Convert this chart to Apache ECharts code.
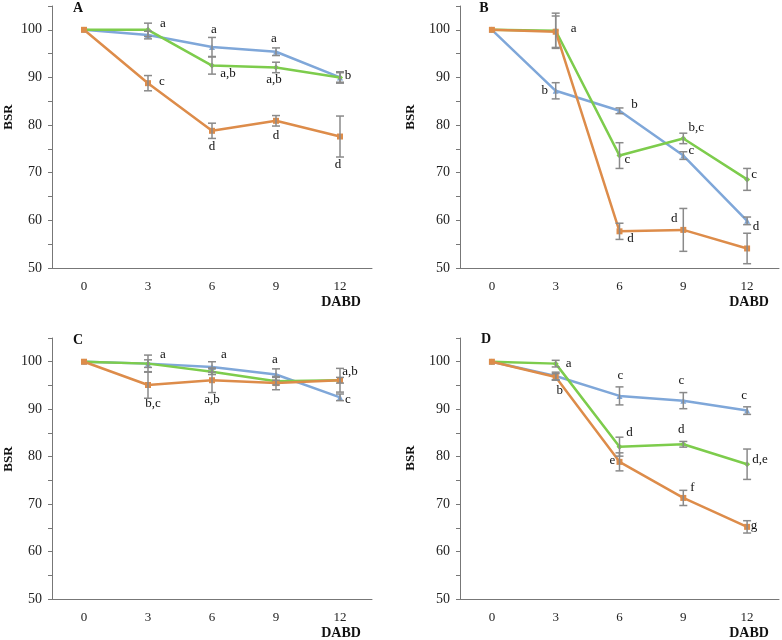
<!DOCTYPE html>
<html><head><meta charset="utf-8">
<script src="https://cdn.jsdelivr.net/npm/echarts@6/dist/echarts.min.js"></script>
<style>html,body{margin:0;padding:0;background:#fff}#c{width:782px;height:640px}</style>
</head><body><div id="c"></div>
<script>
// ---------- DATA ----------
const days = ['0', '3', '6', '9', '12'];
const yTicks = [50, 60, 70, 80, 90, 100];
const panelNames = ['A', 'B', 'C', 'D'];

// Panel A
const aBlue = [100, 98.9, 96.4, 95.4, 90.0];
const aBlueErr = [0, 0.8, 2.0, 0.8, 1.0];
const aGreen = [100, 100, 92.5, 92.1, 90.0];
const aGreenErr = [0, 1.4, 1.8, 1.1, 1.2];
const aOrange = [100, 88.8, 78.8, 80.9, 77.6];
const aOrangeErr = [0, 1.6, 1.6, 1.1, 4.3];
const aBlueTxt = ['', '', 'a', 'a', ''];
const aGreenTxt = ['', 'a', 'a,b', 'a,b', 'b'];
const aOrangeTxt = ['', 'c', 'd', 'd', 'd'];

// Panel B
const bBlue = [100, 87.2, 83.0, 73.6, 59.9];
const bBlueErr = [0, 1.7, 0.6, 0.8, 0.8];
const bGreen = [100, 99.8, 73.6, 77.2, 68.6];
const bGreenErr = [0, 3.7, 2.7, 1.1, 2.3];
const bOrange = [100, 99.6, 57.7, 58.0, 54.1];
const bOrangeErr = [0, 3.3, 1.7, 4.5, 3.2];
const bBlueTxt = ['', 'b', 'b', 'c', 'd'];
const bGreenTxt = ['', 'a', 'c', 'b,c', 'c'];
const bOrangeTxt = ['', '', 'd', 'd', ''];

// Panel C
const cBlue = [100, 99.6, 98.9, 97.3, 92.5];
const cBlueErr = [0, 0.8, 1.1, 1.2, 0.7];
const cGreen = [100, 99.6, 97.9, 95.9, 96.1];
const cGreenErr = [0, 1.8, 0.6, 0.8, 2.5];
const cOrange = [100, 95.1, 96.1, 95.5, 96.1];
const cOrangeErr = [0, 2.8, 2.6, 1.4, 0.6];
const cBlueTxt = ['', 'a', 'a', 'a', 'c'];
const cGreenTxt = ['', '', '', '', 'a,b'];
const cOrangeTxt = ['', 'b,c', 'a,b', '', ''];

// Panel D
const dBlue = [100, 97.0, 92.8, 91.8, 89.7];
const dBlueErr = [0, 0.8, 1.9, 1.7, 0.8];
const dGreen = [100, 99.6, 82.1, 82.6, 78.4];
const dGreenErr = [0, 0.7, 2.0, 0.6, 3.2];
const dOrange = [100, 96.8, 78.9, 71.3, 65.2];
const dOrangeErr = [0, 0.7, 1.9, 1.6, 1.3];
const dBlueTxt = ['', '', 'c', 'c', 'c'];
const dBlueTxt2 = ['', '', 'c', '', ''];
const dGreenTxt = ['', 'a', 'd', 'd', 'd,e'];
const dOrangeTxt = ['', 'b', 'e', 'f', 'g'];

// ---------- LAYOUT / STYLE ----------
const FONT = 'Liberation Serif';
const colors = { blue: '#7fa7d9', green: '#7dcc4c', orange: '#dd8c4a' };
const symbols = { blue: 'triangle', green: 'diamond', orange: 'rect' };
const grids = [
  { left: 52, top: 6, width: 320, height: 262 },
  { left: 460, top: 6, width: 319, height: 262 },
  { left: 52, top: 338, width: 320, height: 261 },
  { left: 460, top: 338, width: 319, height: 261 }
];
// label offsets [dx, dy] per panel/series/point
const offs = {
  A: { blue: [null, null, [2, -17], [-2, -13], null],
       green: [null, [15, -6], [16, 8], [-2, 12], [8, -2]],
       orange: [null, [14, -2], [0, 16], [0, 15], [-2, 28]] },
  B: { blue: [null, [-11, 0], [15, -6], [8, -5], [9, 6]],
       green: [null, [18, -2], [8, 4], [13, -11], [7, -5]],
       orange: [null, null, [11, 7], [-9, -11], null] },
  C: { blue: [null, [15, -9], [12, -12], [-1, -15], [8, 2]],
       green: [null, null, null, null, [10, -9]],
       orange: [null, [5, 19], [0, 19], null, null] },
  D: { blue: [null, null, [1, -20], [-2, -20], [-3, -15]],
       blue2: [null, null, [3, 15], null, null],
       green: [null, [13, 0], [10, -14], [-2, -15], [13, -5]],
       orange: [null, [4, 14], [-7, -1], [9, -10], [7, -1]] }
};

const panels = [
  { name: 'A', s: [['blue', aBlue, aBlueErr, aBlueTxt], ['green', aGreen, aGreenErr, aGreenTxt], ['orange', aOrange, aOrangeErr, aOrangeTxt]] },
  { name: 'B', s: [['blue', bBlue, bBlueErr, bBlueTxt], ['green', bGreen, bGreenErr, bGreenTxt], ['orange', bOrange, bOrangeErr, bOrangeTxt]] },
  { name: 'C', s: [['blue', cBlue, cBlueErr, cBlueTxt], ['green', cGreen, cGreenErr, cGreenTxt], ['orange', cOrange, cOrangeErr, cOrangeTxt]] },
  { name: 'D', s: [['blue', dBlue, dBlueErr, dBlueTxt], ['green', dGreen, dGreenErr, dGreenTxt], ['orange', dOrange, dOrangeErr, dOrangeTxt]],
    extra: [['blue', dBlue, dBlueTxt2, 'blue2']] }
];

const xAxes = [], yAxes = [], series = [];
grids.forEach((g, i) => {
  xAxes.push({
    type: 'category', gridIndex: i, data: days, boundaryGap: true,
    axisLine: { lineStyle: { color: '#777', width: 1 } },
    axisTick: { alignWithLabel: true, length: 3, lineStyle: { color: '#777' } },
    axisLabel: { fontFamily: FONT, fontSize: 13, color: '#222', margin: 12 }
  });
  yAxes.push({
    type: 'value', gridIndex: i, min: 50, max: 105, interval: 5,
    axisLine: { show: true, lineStyle: { color: '#777', width: 1 } },
    axisTick: { show: true, length: 4, lineStyle: { color: '#777' } },
    splitLine: { show: false },
    axisLabel: { fontFamily: FONT, fontSize: 14, color: '#222', margin: 10,
      formatter: v => (yTicks.indexOf(v) >= 0 ? String(v) : '') }
  });
});

function labelledData(vals, txt, off) {
  return vals.map((v, k) => {
    const o = off && off[k];
    if (!txt[k] || !o) return v;
    return { value: v, label: { show: true, position: 'inside', offset: o, formatter: txt[k] } };
  });
}

panels.forEach((p, i) => {
  p.s.forEach(([key, vals, errs, txt]) => {
    series.push({
      type: 'line', xAxisIndex: i, yAxisIndex: i, z: 2,
      data: labelledData(vals, txt, offs[p.name][key]),
      lineStyle: { color: colors[key], width: 2.5 },
      itemStyle: { color: colors[key] },
      symbol: symbols[key], symbolSize: 6, showSymbol: true,
      label: { show: false, fontFamily: FONT, fontSize: 13, color: '#111' },
      emphasis: { disabled: true }, animation: false
    });
    series.push({
      type: 'custom', xAxisIndex: i, yAxisIndex: i, z: 5,
      data: vals.map((v, k) => [k, v, errs[k]]),
      renderItem: (params, api) => {
        const e = api.value(2);
        if (!e) return null;
        const x = api.value(0), v = api.value(1);
        const hi = api.coord([x, v + e]), lo = api.coord([x, v - e]);
        const w = 4;
        const st = { stroke: '#8a8a8a', lineWidth: 1.5 };
        return { type: 'group', children: [
          { type: 'line', shape: { x1: hi[0], y1: hi[1], x2: lo[0], y2: lo[1] }, style: st },
          { type: 'line', shape: { x1: hi[0] - w, y1: hi[1], x2: hi[0] + w, y2: hi[1] }, style: st },
          { type: 'line', shape: { x1: lo[0] - w, y1: lo[1], x2: lo[0] + w, y2: lo[1] }, style: st }
        ] };
      },
      silent: true, animation: false
    });
  });
  (p.extra || []).forEach(([key, vals, txt, offKey]) => {
    series.push({
      type: 'line', xAxisIndex: i, yAxisIndex: i, z: 1,
      data: labelledData(vals, txt, offs[p.name][offKey]),
      lineStyle: { opacity: 0 }, symbol: 'none',
      label: { show: false, fontFamily: FONT, fontSize: 13, color: '#111' },
      emphasis: { disabled: true }, animation: false, silent: true
    });
  });
});

const letterPos = [[78, 8], [484, 8], [78, 340], [486, 339]];
const bsrPos = [[9, 117], [411, 117], [9, 459], [411, 458]];
const dabdPos = [[341, 302], [749, 302], [341, 633], [749, 633]];
const graphic = [];
panelNames.forEach((n, i) => {
  graphic.push({ type: 'text', x: letterPos[i][0], y: letterPos[i][1],
    style: { text: n, font: 'bold 14px "Liberation Serif"', fill: '#111', align: 'center', verticalAlign: 'middle' } });
  graphic.push({ type: 'text', x: bsrPos[i][0], y: bsrPos[i][1], rotation: Math.PI / 2,
    style: { text: 'BSR', font: 'bold 13px "Liberation Serif"', fill: '#111', align: 'center', verticalAlign: 'middle' } });
  graphic.push({ type: 'text', x: dabdPos[i][0], y: dabdPos[i][1],
    style: { text: 'DABD', font: 'bold 14px "Liberation Serif"', fill: '#111', align: 'center', verticalAlign: 'middle' } });
});

const chart = echarts.init(document.getElementById('c'), null, { renderer: 'canvas' });
chart.setOption({
  backgroundColor: '#fff', animation: false,
  grid: grids, xAxis: xAxes, yAxis: yAxes, series: series, graphic: graphic
});
</script>
</body></html>
